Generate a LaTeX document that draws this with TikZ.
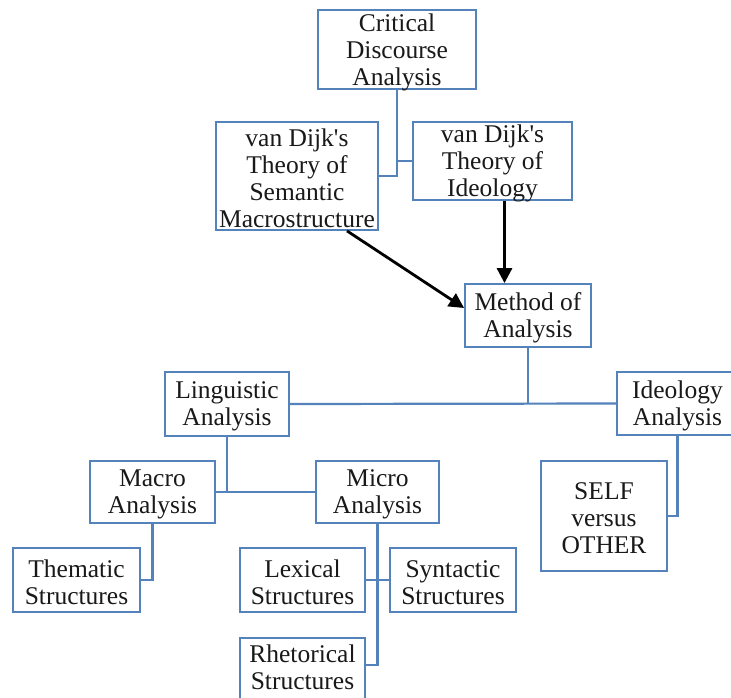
\documentclass[tikz,border=0pt]{standalone}
\usepackage{fontspec}
\setmainfont{Liberation Serif}
\usetikzlibrary{arrows.meta,calc}
\definecolor{boxblue}{RGB}{84,130,186}
\tikzset{
  bx/.style={draw=boxblue, line width=1.8pt, fill=white, inner sep=0pt},
  bxtext/.style={align=center, inner sep=0pt, font=\fontsize{25.5}{27}\selectfont, text=black!90},
  conn/.style={draw=boxblue, line width=2.2pt},
  arr/.style={draw=black, line width=2.8pt, -{Triangle[length=15pt,width=15pt]}}
}
\newcommand\bx[7][-2.5pt]{%
  \node[bx, minimum width={#5pt-#3pt}, minimum height={#6pt-#4pt}] (#2) at ({(#3+#5)/2},{(#4+#6)/2}) {};
  \node[bxtext] (#2t) at ([yshift=#1]#2.center) {#7};}
\begin{document}
\begin{tikzpicture}[x=1pt,y=-1pt]
\clip (0,0) rectangle (731,697);
\fill[white] (0,0) rectangle (731,697);
\bx{cda}{318}{10}{476}{89}{Critical\\Discourse\\Analysis}
\bx{sem}{216}{122}{378}{230}{van Dijk\textquotesingle s\\Theory of\\Semantic\\Macrostructure}
\bx{ideo}{413}{122}{572}{200}{van Dijk\textquotesingle s\\Theory of\\Ideology}
\bx{moa}{465}{284}{591}{347}{Method of\\Analysis}
\bx{ling}{165}{372}{289}{436}{Linguistic\\Analysis}
\bx{ia}{617}{372}{738}{435}{Ideology\\Analysis}
\bx{self}{541}{461}{667}{571}{SELF\\versus\\OTHER}
\bx{macro}{90}{461}{215}{523}{Macro\\Analysis}
\bx{micro}{316}{461}{439}{523}{Micro\\Analysis}
\bx{them}{13}{548}{140}{612}{Thematic\\Structures}
\bx{lex}{240}{548}{365}{612}{Lexical\\Structures}
\bx{syn}{390}{548}{516}{612}{Syntactic\\Structures}
\bx[3pt]{rhet}{240}{638}{365}{702}{Rhetorical\\Structures}
% connectors
\draw[conn] (cda.south) |- (sem.east);
\draw[conn] (ideo.west) -- (ideo.west -| cda.south);
\draw[arr] ([xshift=12pt]ideo.south) -- ([xshift=12pt]ideo.south |- moa.north);
\draw[arr] ([xshift=50pt]sem.south) -- ([yshift=7.5pt]moa.west);
\draw[conn] (moa.south) -- (moa.south |- ling.east);
\draw[conn] (ling.east) -- (ia.west);
\draw[conn] (ling.south) -- (ling.south |- macro.east);
\draw[conn] (macro.east) -- (micro.west);
\draw[conn] (ia.south) |- (self.east);
\draw[conn] (macro.south) |- (them.east);
\draw[conn] (micro.south) |- ([yshift=5pt]rhet.east);
\draw[conn] (lex.east) -- (syn.west);
\end{tikzpicture}
\end{document}
